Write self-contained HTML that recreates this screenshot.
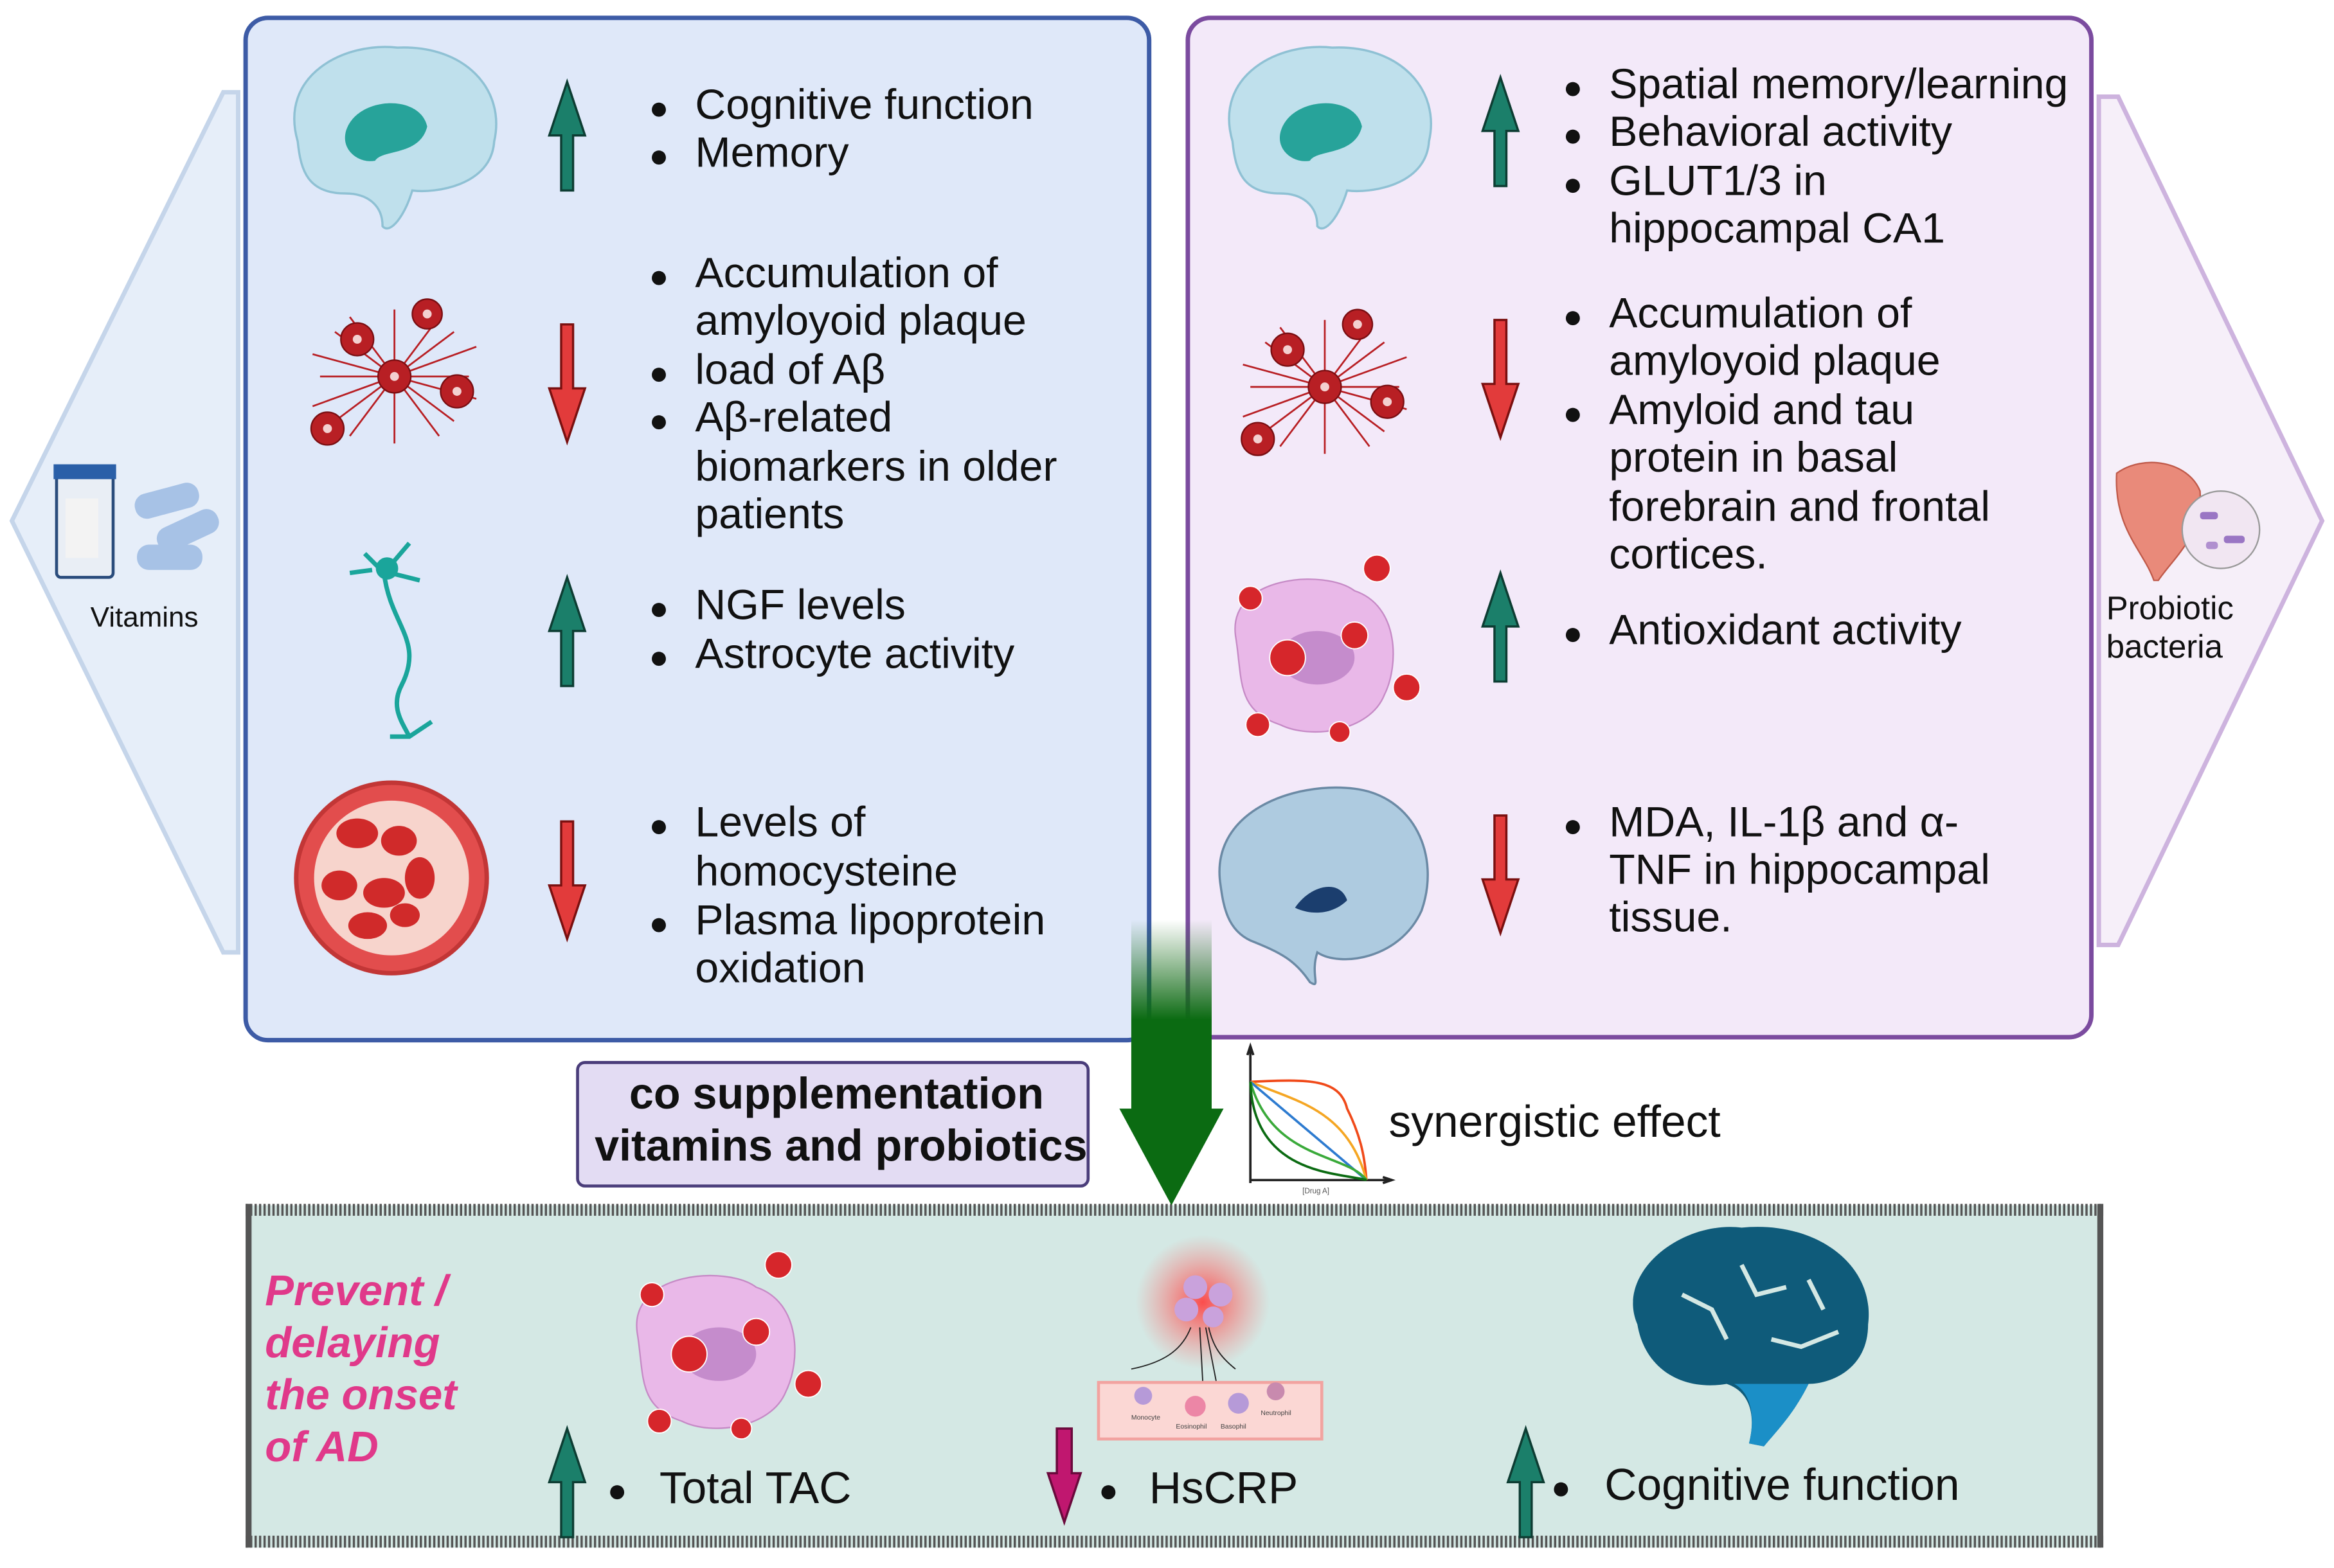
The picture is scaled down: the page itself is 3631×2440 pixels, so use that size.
<!DOCTYPE html>
<html><head><meta charset="utf-8"><style>html,body{margin:0;padding:0;background:#fff}svg{display:block}</style></head>
<body>
<svg width="3631" height="2440" viewBox="0 0 1568 1053.7" preserveAspectRatio="none" xmlns="http://www.w3.org/2000/svg" font-family="Liberation Sans, DejaVu Sans, sans-serif">
<defs>
<linearGradient id="gg" x1="0" y1="0" x2="0" y2="1"><stop offset="0" stop-color="#1a6b1a" stop-opacity="0"/><stop offset="0.35" stop-color="#0b6b12"/><stop offset="1" stop-color="#0b6b12"/></linearGradient>
<radialGradient id="glow"><stop offset="0" stop-color="#ff3b3b" stop-opacity="0.9"/><stop offset="1" stop-color="#ff6b6b" stop-opacity="0"/></radialGradient>
<g id="up"><path d="M0,0 L12,36 L4,36 L4,73 L-4,73 L-4,36 L-12,36 Z" fill="#1b7f6a" stroke="#0d3d33" stroke-width="1.5"/></g>
<g id="dn"><path d="M0,79 L12,43 L4,43 L4,0 L-4,0 L-4,43 L-12,43 Z" fill="#e23b3b" stroke="#7a1010" stroke-width="1.5"/></g>
<g id="pl"><g stroke="#b81f24" stroke-width="1.2" fill="none"><path d="M-40,-30 L40,30 M-40,30 L40,-30 M0,-45 L0,45 M-50,0 L50,0 M-30,-40 L30,40 M30,-40 L-30,40 M-55,-15 L55,15 M-55,20 L55,-20"/></g>
<g fill="#b81f24" stroke="#7a0e12"><circle cx="-25" cy="-25" r="11"/><circle cx="22" cy="-42" r="10"/><circle cx="0" cy="0" r="11"/><circle cx="42" cy="10" r="11"/><circle cx="-45" cy="35" r="11"/></g>
<g fill="#f3d0d0"><circle cx="-25" cy="-25" r="3"/><circle cx="22" cy="-42" r="3"/><circle cx="0" cy="0" r="3"/><circle cx="42" cy="10" r="3"/><circle cx="-45" cy="35" r="3"/></g></g>
<g id="brain"><path d="M-62,5 C-75,-40 -30,-62 5,-58 C50,-60 78,-30 70,5 C68,35 30,40 15,38 C10,55 0,68 -5,62 C-5,48 -15,40 -30,40 C-55,40 -60,25 -62,5 Z" fill="#bfe0ec" stroke="#8fc1d4" stroke-width="1.5"/><path d="M-30,0 C-25,-25 20,-28 25,-5 C20,15 -5,10 -10,18 C-20,20 -32,12 -30,0 Z" fill="#27a39a"/></g>
<g id="cell"><path d="M-50,-10 C-55,-50 10,-55 30,-40 C60,-30 60,10 50,30 C40,55 0,60 -20,50 C-50,40 -45,20 -50,-10 Z" fill="#e9b8e8" stroke="#c68ac6"/><ellipse cx="5" cy="5" rx="25" ry="18" fill="#c58ccc"/>
<g fill="#d6262b" stroke="#fff" stroke-width="0.8"><circle cx="-15" cy="5" r="12"/><circle cx="30" cy="-10" r="9"/><circle cx="45" cy="-55" r="9"/><circle cx="-40" cy="-35" r="8"/><circle cx="65" cy="25" r="9"/><circle cx="-35" cy="50" r="8"/><circle cx="20" cy="55" r="7"/></g></g>
<pattern id="hatch" width="3" height="10" patternUnits="userSpaceOnUse"><rect width="1.5" height="10" fill="#555"/></pattern>
</defs>
<path d="M160,62 L160,640 L150,640 L8,350 L150,62 Z" fill="#e6eef9" stroke="#c5d5ea" stroke-width="3"/>
<path d="M1410,65 L1423,65 L1560,350 L1423,635 L1410,635 Z" fill="#f6eff9" stroke="#cdb3de" stroke-width="3"/>
<rect x="38" y="318" width="38" height="70" rx="3" fill="#e9eef5" stroke="#2a4c7c" stroke-width="2"/><rect x="36" y="312" width="42" height="10" fill="#2a5fa8"/><rect x="44" y="335" width="22" height="40" fill="#f3f3f3"/>
<rect x="90" y="328" width="44" height="17" rx="8" fill="#a7c2e6" transform="rotate(-15 112 336)"/><rect x="104" y="348" width="44" height="17" rx="8" fill="#a7c2e6" transform="rotate(-25 126 356)"/><rect x="92" y="366" width="44" height="17" rx="8" fill="#a7c2e6"/>
<text x="97" y="421" font-size="19" text-anchor="middle" fill="#111">Vitamins</text>
<path d="M1422,318 C1440,305 1470,310 1478,330 C1480,360 1460,375 1450,390 L1447,390 C1440,370 1420,355 1422,318 Z" fill="#e98a7a" stroke="#c05a4a"/>
<circle cx="1492" cy="356" r="26" fill="#f1e6f2" stroke="#999"/><rect x="1478" y="344" width="12" height="5" rx="2" fill="#9a76c4"/><rect x="1494" y="360" width="14" height="5" rx="2" fill="#9a76c4"/><rect x="1482" y="364" width="8" height="5" rx="2" fill="#b08fcf"/>
<text x="1415" y="416" font-size="22" fill="#111">Probiotic</text><text x="1415" y="442" font-size="22" fill="#111">bacteria</text>
<rect x="165" y="12" width="607" height="687" rx="15" fill="#dfe8f9" stroke="#3d5ba6" stroke-width="3"/>
<rect x="798" y="12" width="607" height="685" rx="15" fill="#f3e9f9" stroke="#7b4b9f" stroke-width="3"/>
<use href="#brain" x="262" y="90"/>
<use href="#pl" x="265" y="253"/>
<g stroke="#1aa59b" stroke-width="3" fill="none"><path d="M258,385 C262,420 285,430 270,460 C262,475 270,485 275,495 M245,372 L258,385 L275,365 M235,385 L250,383 M282,390 L262,385 M262,495 L275,495 L290,485"/><circle cx="260" cy="382" r="6" fill="#1aa59b"/></g>
<circle cx="263" cy="590" r="64" fill="#e24d4d" stroke="#c23636" stroke-width="3"/><circle cx="263" cy="590" r="52" fill="#f7d4cc"/>
<g fill="#d02a2a"><ellipse cx="240" cy="560" rx="14" ry="10"/><ellipse cx="268" cy="565" rx="12" ry="10"/><ellipse cx="228" cy="595" rx="12" ry="10"/><ellipse cx="258" cy="600" rx="14" ry="10"/><ellipse cx="282" cy="590" rx="10" ry="14"/><ellipse cx="247" cy="622" rx="13" ry="9"/><ellipse cx="272" cy="615" rx="10" ry="8"/></g>
<use href="#brain" x="890" y="90"/>
<use href="#pl" x="890" y="260"/>
<use href="#cell" x="880" y="437"/>
<path d="M820,595 C812,545 870,525 910,530 C950,535 968,575 955,612 C940,645 900,650 885,640 C880,655 888,665 880,660 C870,645 860,640 840,632 C825,625 822,610 820,595 Z" fill="#aecbe0" stroke="#6b8aa5" stroke-width="1.5"/><path d="M870,610 C880,595 900,590 905,605 C895,615 880,615 870,610 Z" fill="#1b3e6e"/>
<use href="#up" x="381" y="55"/><use href="#dn" x="381" y="218"/><use href="#up" x="381" y="388"/><use href="#dn" x="381" y="552"/>
<use href="#up" x="1008" y="52"/><use href="#dn" x="1008" y="215"/><use href="#up" x="1008" y="385"/><use href="#dn" x="1008" y="548"/>
<g font-size="28.6" fill="#111">
<g font-size="22"><text x="436" y="80">●</text><text x="436" y="112">●</text><text x="436" y="193">●</text><text x="436" y="258">●</text><text x="436" y="290">●</text><text x="436" y="416">●</text><text x="436" y="449">●</text><text x="436" y="562">●</text><text x="436" y="628">●</text>
<text x="1050" y="66">●</text><text x="1050" y="98">●</text><text x="1050" y="131">●</text><text x="1050" y="220">●</text><text x="1050" y="285">●</text><text x="1050" y="433">●</text><text x="1050" y="562">●</text></g>
<text x="467" y="80">Cognitive function</text><text x="467" y="112">Memory</text>
<text x="467" y="193">Accumulation of</text><text x="467" y="225">amyloyoid plaque</text><text x="467" y="258">load of Aβ</text><text x="467" y="290">Aβ-related</text><text x="467" y="323">biomarkers in older</text><text x="467" y="355">patients</text>
<text x="467" y="416">NGF levels</text><text x="467" y="449">Astrocyte activity</text>
<text x="467" y="562">Levels of</text><text x="467" y="595">homocysteine</text><text x="467" y="628">Plasma lipoprotein</text><text x="467" y="660">oxidation</text>
<text x="1081" y="66">Spatial memory/learning</text><text x="1081" y="98">Behavioral activity</text><text x="1081" y="131">GLUT1/3 in</text><text x="1081" y="163">hippocampal CA1</text>
<text x="1081" y="220">Accumulation of</text><text x="1081" y="252">amyloyoid plaque</text><text x="1081" y="285">Amyloid and tau</text><text x="1081" y="317">protein in basal</text><text x="1081" y="350">forebrain and frontal</text><text x="1081" y="382">cortices.</text>
<text x="1081" y="433">Antioxidant activity</text>
<text x="1081" y="562">MDA, IL-1β and α-</text><text x="1081" y="594">TNF in hippocampal</text><text x="1081" y="626">tissue.</text>
</g>
<rect x="165" y="810" width="1248" height="230" fill="#d4e8e4"/>
<rect x="165" y="809" width="1248" height="8" fill="url(#hatch)"/><rect x="165" y="1032" width="1248" height="8" fill="url(#hatch)"/>
<rect x="165" y="809" width="4" height="231" fill="#555"/><rect x="1409" y="809" width="4" height="231" fill="#555"/>
<path d="M760,618 L814,618 L814,745 L822,745 L787,810 L752,745 L760,745 Z" fill="url(#gg)"/>
<rect x="388" y="714" width="343" height="83" rx="5" fill="#e3dcf3" stroke="#4a3d7a" stroke-width="2"/>
<text x="562" y="745" font-size="29.5" font-weight="bold" text-anchor="middle" fill="#111">co supplementation</text>
<text x="565" y="780" font-size="29.5" font-weight="bold" text-anchor="middle" fill="#111">vitamins and probiotics</text>
<g fill="none" stroke-width="1.6"><path d="M840,795 L840,705 M838,709 L840,703 L842,709" stroke="#222"/><path d="M840,793 L935,793 M929,791 L935,793 L929,795" stroke="#222"/>
<path d="M840,727 C880,725 900,725 905,745 C915,765 917,780 918,793" stroke="#f04a1a"/>
<path d="M840,727 C870,740 905,745 918,793" stroke="#f5a623"/>
<path d="M840,727 L918,793" stroke="#2d7bd0"/>
<path d="M840,727 C855,780 905,775 918,793" stroke="#3aaa3a"/>
<path d="M840,727 C842,790 900,788 918,793" stroke="#0b6b12"/></g>
<text x="884" y="802" font-size="5" fill="#555" text-anchor="middle">[Drug A]</text>
<text x="933" y="764" font-size="30" fill="#111">synergistic effect</text>
<g font-size="29" font-weight="bold" font-style="italic" fill="#e0398a"><text x="178" y="877">Prevent /</text><text x="178" y="912">delaying</text><text x="178" y="947">the onset</text><text x="178" y="982">of AD</text></g>
<use href="#cell" x="478" y="905"/>
<circle cx="808" cy="875" r="45" fill="url(#glow)"/>
<g fill="#c9a2dc"><circle cx="803" cy="865" r="8"/><circle cx="820" cy="870" r="8"/><circle cx="797" cy="880" r="8"/><circle cx="815" cy="885" r="7"/></g>
<g stroke="#222" stroke-width="0.8" fill="none"><path d="M760,920 C785,915 795,905 800,892 M808,928 L806,892 M817,928 L810,892 M830,920 C820,912 815,905 812,892"/></g>
<rect x="738" y="929" width="150" height="38" fill="#fbd7d4" stroke="#f2a3a0" stroke-width="2"/>
<g fill="#b69ad8"><circle cx="768" cy="938" r="6"/><circle cx="832" cy="943" r="7"/></g><circle cx="803" cy="945" r="7" fill="#ec86a6"/><circle cx="857" cy="935" r="6" fill="#c88aae"/>
<g font-size="4.5" fill="#444"><text x="760" y="954">Monocyte</text><text x="790" y="960">Eosinophil</text><text x="820" y="960">Basophil</text><text x="847" y="951">Neutrophil</text></g>
<path d="M1100,890 C1085,855 1130,820 1170,825 C1220,820 1260,850 1255,890 C1255,920 1230,930 1215,930 C1205,950 1195,960 1185,972 L1175,970 C1180,950 1175,935 1160,930 C1130,935 1105,920 1100,890 Z" fill="#0f5b7a"/>
<path d="M1165,930 L1215,930 C1205,950 1195,960 1185,972 L1175,970 C1180,950 1175,935 1165,930 Z" fill="#1b8fc7"/>
<g stroke="#d4e8e4" stroke-width="3" fill="none"><path d="M1130,870 L1150,880 L1160,900 M1170,850 L1180,870 L1200,865 M1215,860 L1225,880 M1190,900 L1210,905 L1235,895"/></g>
<use href="#up" x="381" y="960"/>
<path d="M715,1023 L726,990 L720,990 L720,960 L710,960 L710,990 L704,990 Z" fill="#c0176f" stroke="#6a0a3c" stroke-width="1.5"/>
<use href="#up" x="1025" y="960"/>
<g font-size="22" fill="#111"><text x="408" y="1009">●</text><text x="738" y="1009">●</text><text x="1042" y="1007">●</text></g>
<g font-size="30" fill="#111"><text x="443" y="1010">Total TAC</text><text x="772" y="1010">HsCRP</text><text x="1078" y="1008">Cognitive function</text></g>
</svg>
</body></html>
